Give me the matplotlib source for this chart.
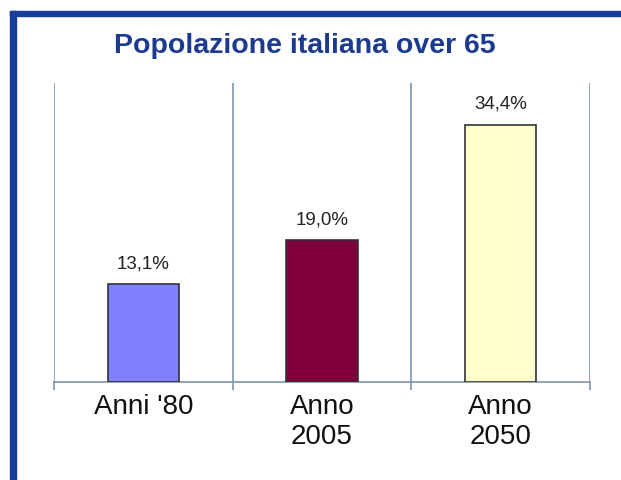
import matplotlib
matplotlib.use("Agg")
import matplotlib.pyplot as plt
from matplotlib.patches import Rectangle

plt.rcParams["font.family"] = ["Liberation Sans", "DejaVu Sans"]

categories = ["Anni '80", "Anno\n2005", "Anno\n2050"]
values = [13.1, 19.0, 34.4]
value_labels = ["13,1%", "19,0%", "34,4%"]
colors = ["#8080ff", "#80003c", "#ffffcc"]

W, H = 621, 480
fig = plt.figure(figsize=(W / 100, H / 100), dpi=100, facecolor="white")

# frame of the slide: thick blue line on the left and top
border = "#1a3c9c"
fig.patches.append(Rectangle((10 / W, 0), 6 / W, 1 - 11 / H, transform=fig.transFigure,
                             color=border, zorder=5))
fig.patches.append(Rectangle((10 / W, 1 - 16 / H), 1, 5 / H, transform=fig.transFigure,
                             color=border, zorder=5))

ax = fig.add_axes([54 / W, 1 - 382 / H, (590 - 54) / W, (382 - 83) / H])
x = range(len(categories))
ax.bar(x, values, width=0.4, color=colors, edgecolor="#333333", linewidth=1.2, zorder=3)
for xi, v, lab in zip(x, values, value_labels):
    ax.text(xi, v + 1.6, lab, ha="center", va="bottom", fontsize=13.5, color="#222222")

ax.set_xlim(-0.5, 2.5)
ax.set_ylim(0, 40)
ax.set_yticks([])
ax.set_xticks(list(x))
ax.set_xticklabels(categories, fontsize=20, color="#111111", linespacing=1.15)
ax.tick_params(axis="x", which="major", length=0, pad=9)
ax.set_xticks([-0.5, 0.5, 1.5, 2.5], minor=True)
ax.tick_params(axis="x", which="minor", length=6, width=1.2, color="#7f93ad", direction="out")
ax.grid(axis="x", which="minor", color="#7f93ad", linewidth=1.2, zorder=0)
for s in ["top", "left", "right"]:
    ax.spines[s].set_visible(False)
ax.spines["bottom"].set_color("#7f93ad")
ax.spines["bottom"].set_linewidth(1.2)

fig.text(305 / W, 1 - 46 / H, "Popolazione italiana over 65", ha="center", va="center",
         fontsize=20.5, fontweight="bold", color="#1c3a8f")

fig.savefig("out.png", dpi=100, facecolor="white")
